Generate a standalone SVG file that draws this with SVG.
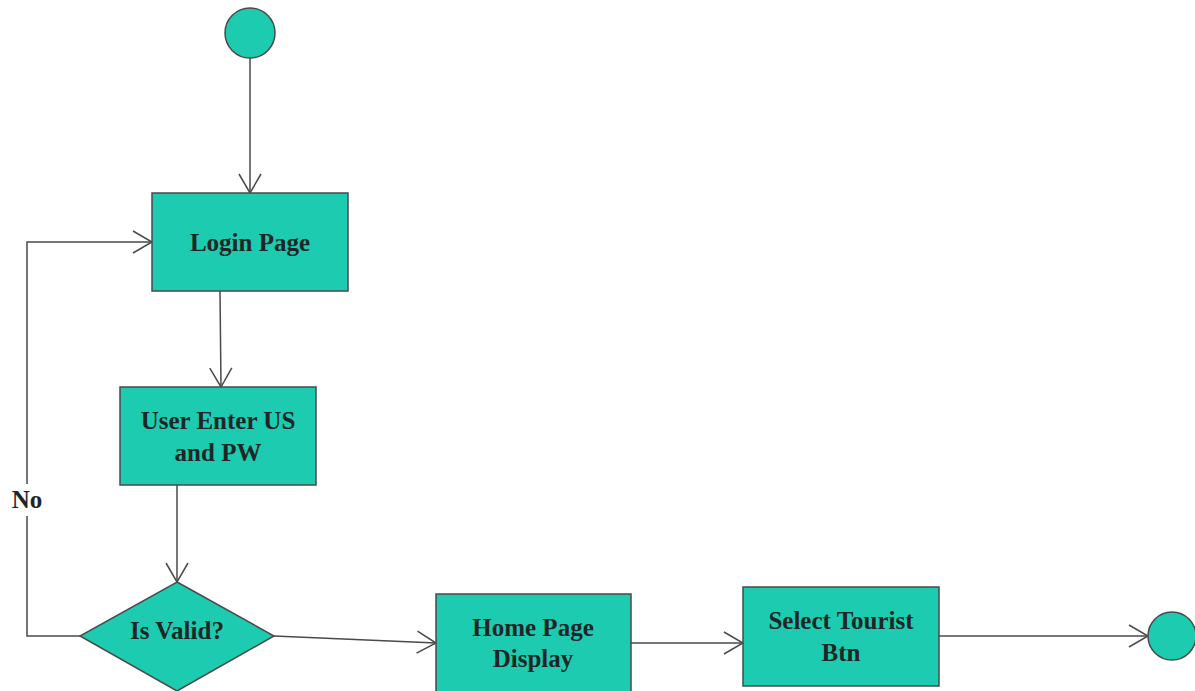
<svg xmlns="http://www.w3.org/2000/svg" width="1195" height="691" viewBox="0 0 1195 691">
  <style>
    .shape { fill: #1ccbb0; stroke: #4a4a4a; stroke-width: 1.5; }
    .edge { fill: none; stroke: #4a4a4a; stroke-width: 1.5; }
    .label { font-weight: bold; font-size: 25px; fill: #1e2626; text-anchor: middle; }
  </style>
  <defs>
    <marker id="open" markerWidth="22" markerHeight="24" refX="20" refY="12" orient="auto" markerUnits="userSpaceOnUse">
      <path d="M1,1 L20,12 L1,23" fill="none" stroke="#4a4a4a" stroke-width="1.5"/>
    </marker>
  </defs>
  <rect width="1195" height="691" fill="#ffffff"/>

  <g id="connectors">
    <path class="edge" d="M250,58 L250,193" marker-end="url(#open)"/>
    <path class="edge" d="M220,291 L221,387" marker-end="url(#open)"/>
    <path class="edge" d="M177,485 L177,582" marker-end="url(#open)"/>
    <path class="edge" d="M80,636 L27,636 L27,242 L152,242" marker-end="url(#open)"/>
    <path class="edge" d="M274,636 L436,643" marker-end="url(#open)"/>
    <path class="edge" d="M631,643 L743,643" marker-end="url(#open)"/>
    <path class="edge" d="M939,636 L1148,636" marker-end="url(#open)"/>
  </g>

  <g font-family="'Liberation Serif', 'DejaVu Serif', serif">
    <g id="label-no">
      <rect x="8" y="484" width="38" height="32" fill="#ffffff"/>
      <text class="label" x="27" y="508">No</text>
    </g>

    <g id="start">
      <circle class="shape" cx="250" cy="33" r="25"/>
    </g>

    <g id="login-page">
      <rect class="shape" x="152" y="193" width="196" height="98"/>
      <text class="label" x="250" y="251">Login Page</text>
    </g>

    <g id="user-enter">
      <rect class="shape" x="120" y="387" width="196" height="98"/>
      <text class="label" x="218" y="429">User Enter US</text>
      <text class="label" x="218" y="461">and PW</text>
    </g>

    <g id="is-valid">
      <polygon class="shape" points="177,582 274,636 177,691 80,636"/>
      <text class="label" x="177" y="639">Is Valid?</text>
    </g>

    <g id="home-page">
      <rect class="shape" x="436" y="594" width="195" height="100"/>
      <text class="label" x="533" y="636">Home Page</text>
      <text class="label" x="533" y="667">Display</text>
    </g>

    <g id="select-tourist">
      <rect class="shape" x="743" y="587" width="196" height="99"/>
      <text class="label" x="841" y="629">Select Tourist</text>
      <text class="label" x="841" y="661">Btn</text>
    </g>

    <g id="end">
      <circle class="shape" cx="1172" cy="636" r="24"/>
    </g>
  </g>
</svg>
